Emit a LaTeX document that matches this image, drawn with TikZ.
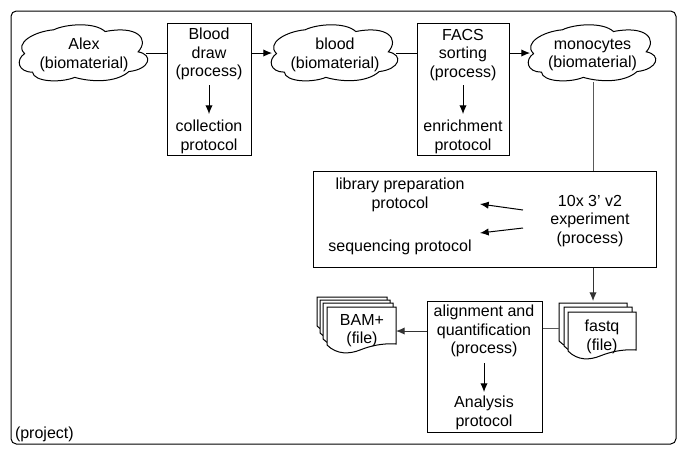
\documentclass[tikz,border=0pt]{standalone}
\usepackage{fontspec}
\setmainfont{Liberation Sans}
\usetikzlibrary{arrows.meta}
\newcommand{\cloudshape}[6]{%
\begin{scope}[shift={(#2,#3)},x=#4*0.75pt,y=-#5*0.75pt]
\draw[line] (.05,.51) .. controls (-.03,.33) and (.12,.13) .. (.27,.10)
 .. controls (.36,.0) and (.58,-.04) .. (.66,.13)
 .. controls (.9,.02) and (1.0,.25) .. (.91,.48)
 .. controls (1.03,.53) and (1.0,.78) .. (.84,.82)
 .. controls (.74,1.02) and (.55,1.0) .. (.43,.92)
 .. controls (.32,1.02) and (.12,1.0) .. (.11,.83)
 .. controls (.0,.83) and (-.02,.62) .. (.05,.51) -- cycle;
\end{scope}
\node[lbl,minimum width=#4*0.75pt,minimum height=#5*0.75pt] (#1) at (#2+#4/2,#3+#5/2+1) {#6};}
\newcommand{\sheet}[4]{%
\draw[line,fill=white] (#1,#2) -- (#3,#2) -- (#3,#4-10)
 .. controls (#3-14,#4-11) and (#3-26,#4-8) .. (#3-36,#4-4)
 .. controls (#3-46,#4) and (#1+10,#4+1) .. (#1,#4-9) -- cycle;}
\tikzset{
 line/.style={draw=black,line width=0.75pt},
 lbl/.style={font=\fontsize{12pt}{14pt}\selectfont,align=center,inner sep=0pt,outer sep=0pt,yshift=-0.75pt},
 boxn/.style={draw=black,line width=0.75pt,inner sep=0pt},
 arr/.style={line,-{Latex[length=6.5pt,width=5.5pt]}},
 conn/.style={line,draw=black!65}
}
\begin{document}
\begin{tikzpicture}[x=0.75pt,y=-0.75pt]
\useasboundingbox (0,0) rectangle (685,455);
\fill[white] (0,0) rectangle (685,455);
\draw[line,rounded corners=4pt] (11,11) rectangle (676,444);
\node[lbl,anchor=west] (project) at (15,433) {(project)};
\cloudshape{alex}{18}{24}{132}{58}{Alex\\(biomaterial)}
\cloudshape{blood}{270}{24}{130}{58}{blood\\(biomaterial)}
\cloudshape{mono}{527}{24}{131}{58}{monocytes\\(biomaterial)}
\node[boxn,minimum width=84*0.75pt,minimum height=132*0.75pt] (drawbox) at (209,89.5) {};
\node[boxn,minimum width=92*0.75pt,minimum height=132*0.75pt] (facsbox) at (463,89.5) {};
\node[boxn,minimum width=343*0.75pt,minimum height=96*0.75pt] (expbox) at (484.5,219) {};
\node[boxn,minimum width=115*0.75pt,minimum height=131*0.75pt] (alignbox) at (484.5,366.5) {};
\node[lbl] (drawt) at (209,53) {Blood\\draw\\(process)};
\node[lbl] (collt) at (209,136) {collection\\protocol};
\node[lbl] (facst) at (463,54) {FACS\\sorting\\(process)};
\node[lbl] (enrt) at (463,136) {enrichment\\protocol};
\node[lbl] (libt) at (400,194) {library preparation\\protocol};
\node[lbl] (seqt) at (400,246) {sequencing protocol};
\node[lbl] (expt) at (590,220) {10x 3' v2\\experiment\\(process)};
\node[lbl] (alignt) at (484,330) {alignment and\\quantification\\(process)};
\node[lbl] (anat) at (484,412) {Analysis\\protocol};
\sheet{317}{297}{387}{335}
\sheet{320}{300}{390}{342}
\sheet{323}{303}{393}{348}
\sheet{327}{307}{396}{354}
\node[lbl] (bam) at (362,329.5) {BAM+\\(file)};
\sheet{559}{303}{627}{350}
\sheet{564}{307}{632}{355}
\sheet{568}{312}{636}{360}
\node[lbl] (fastq) at (602,336) {fastq\\(file)};
\coordinate (fastqin) at (559,328);
\coordinate (bamin) at (396,331);
\coordinate (fastqtop) at (593,301);
\coordinate (libin) at (480,204);
\coordinate (seqin) at (480,233);
\coordinate (expa) at (523,210);
\coordinate (expb) at (523,228);
\draw[line,shorten <=-3pt] (alex.east |- 0,53) -- (drawbox.west |- 0,53);
\draw[arr,shorten >=-1.5pt] (drawbox.east |- 0,53) -- (blood.west |- 0,53);
\draw[line,shorten <=-3pt] (blood.east |- 0,53) -- (facsbox.west |- 0,53);
\draw[arr,shorten >=-2.25pt] (facsbox.east |- 0,53) -- (mono.west |- 0,53);
\draw[conn,shorten <=-1.5pt] (mono.south -| 593,0) -- (expbox.north -| 593,0);
\draw[arr] (drawt) ++(0,31) -- ++(0,29);
\draw[arr] (facst) ++(0,30) -- ++(0,29);
\draw[arr] (alignt) ++(0,32) -- ++(0,29);
\draw[arr,draw=black!80] (expbox.south -| 593,0) -- (fastqtop);
\draw[conn] (alignbox.east |- 0,328) -- (fastqin);
\draw[arr,draw=black!80] (alignbox.west |- 0,331) -- (bamin);
\draw[arr] (expa) -- (libin);
\draw[arr] (expb) -- (seqin);
\end{tikzpicture}
\end{document}
